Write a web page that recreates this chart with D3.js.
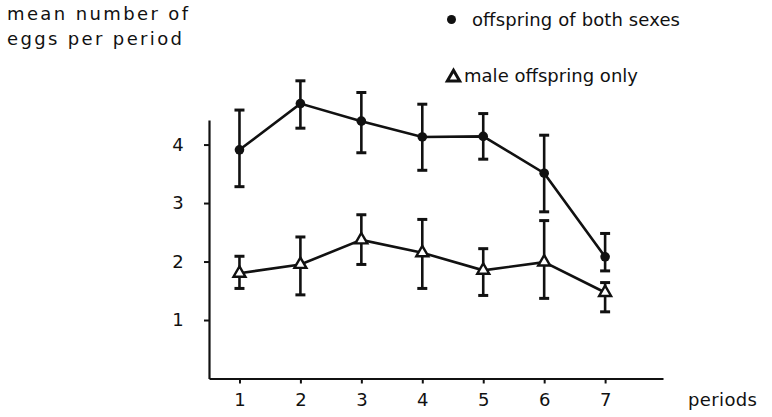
<!DOCTYPE html>
<html>
<head>
<meta charset="utf-8">
<script src="https://cdn.jsdelivr.net/npm/d3@7/dist/d3.min.js"></script>
<style>
  html, body { margin: 0; padding: 0; background: #fff; }
  svg { display: block; }
  text { font-family: "DejaVu Sans", sans-serif; fill: #111; }
</style>
</head>
<body>
<svg id="chart" width="772" height="417"></svg>
<script>
const periods = [1, 2, 3, 4, 5, 6, 7];
const bothMean = [3.91, 4.70, 4.40, 4.13, 4.14, 3.51, 2.08];
const bothLow  = [3.28, 4.28, 3.86, 3.56, 3.75, 2.85, 1.84];
const bothHigh = [4.59, 5.09, 4.89, 4.69, 4.53, 4.16, 2.48];
const maleMean = [1.80, 1.95, 2.37, 2.15, 1.85, 1.99, 1.47];
const maleLow  = [1.54, 1.43, 1.95, 1.54, 1.42, 1.37, 1.14];
const maleHigh = [2.09, 2.42, 2.80, 2.72, 2.22, 2.70, 1.64];
const yTicks = [1, 2, 3, 4];
const yTitle = ["mean number of", "eggs per period"];
const xTitle = "periods";
const legendLabels = ["offspring of both sexes", "male offspring only"];

const svg = d3.select("#chart");
const x = d3.scaleLinear().domain([0.5, 7.95]).range([209, 663]);
const y = d3.scaleLinear().domain([0, 4.42]).range([378.5, 120]);

// axes
const xAxis = d3.axisBottom(x).tickValues(periods).tickFormat(d3.format("d"))
  .tickSize(5).tickSizeOuter(0).tickPadding(10);
const yAxis = d3.axisLeft(y).tickValues(yTicks).tickFormat(d3.format("d"))
  .tickSize(5).tickSizeOuter(0).tickPadding(26);

const gx = svg.append("g").attr("transform", `translate(0,${y(0)})`).call(xAxis);
const gy = svg.append("g").attr("transform", `translate(${x(0.5)},0)`).call(yAxis);
[gx, gy].forEach(g => {
  g.select(".domain").attr("stroke", "#111").attr("stroke-width", 2.2);
  g.selectAll(".tick line").attr("stroke", "#111").attr("stroke-width", 2);
  g.selectAll(".tick text").attr("font-size", 18).attr("font-family", "DejaVu Sans, sans-serif").attr("fill", "#111");
});
gy.selectAll(".tick text").attr("text-anchor", "middle");

function series(mean, low, high) {
  return periods.map((p, i) => ({ p, m: mean[i], lo: low[i], hi: high[i] }));
}
const both = series(bothMean, bothLow, bothHigh);
const male = series(maleMean, maleLow, maleHigh);

const line = d3.line().x(d => x(d.p)).y(d => y(d.m));
[both, male].forEach(s => {
  svg.append("path").datum(s).attr("d", line)
    .attr("fill", "none").attr("stroke", "#111").attr("stroke-width", 2.6);
});

function errorBars(s) {
  const g = svg.append("g").attr("stroke", "#111");
  g.selectAll(".v").data(s).join("line")
    .attr("x1", d => x(d.p)).attr("x2", d => x(d.p))
    .attr("y1", d => y(d.lo)).attr("y2", d => y(d.hi)).attr("stroke-width", 2.6);
  ["lo", "hi"].forEach(k => {
    g.selectAll(".c" + k).data(s).join("line")
      .attr("x1", d => x(d.p) - 5).attr("x2", d => x(d.p) + 5)
      .attr("y1", d => y(d[k])).attr("y2", d => y(d[k])).attr("stroke-width", 3);
  });
}
errorBars(both);
errorBars(male);

svg.append("g").selectAll("circle").data(both).join("circle")
  .attr("cx", d => x(d.p)).attr("cy", d => y(d.m)).attr("r", 4.8).attr("fill", "#111");

const tri = d3.symbol().type(d3.symbolTriangle).size(62);
svg.append("g").selectAll("path").data(male).join("path")
  .attr("d", tri).attr("transform", d => `translate(${x(d.p)},${y(d.m)})`)
  .attr("fill", "#fff").attr("stroke", "#111").attr("stroke-width", 2.4);

// titles
svg.append("text").attr("x", 7).attr("y", 20).attr("font-size", 18)
  .attr("textLength", 181).attr("lengthAdjust", "spacing").text(yTitle[0]);
svg.append("text").attr("x", 7).attr("y", 45).attr("font-size", 18)
  .attr("textLength", 175).attr("lengthAdjust", "spacing").text(yTitle[1]);
svg.append("text").attr("x", 688).attr("y", 406).attr("font-size", 18)
  .attr("textLength", 69).attr("lengthAdjust", "spacing").text(xTitle);

// legend
svg.append("circle").attr("cx", 451.5).attr("cy", 19.5).attr("r", 4.5).attr("fill", "#111");
svg.append("text").attr("x", 472).attr("y", 25.5).attr("font-size", 18)
  .attr("textLength", 208).attr("lengthAdjust", "spacing").text(legendLabels[0]);
svg.append("path").attr("d", d3.symbol().type(d3.symbolTriangle).size(66)())
  .attr("transform", "translate(453.5,77.5)")
  .attr("fill", "#fff").attr("stroke", "#111").attr("stroke-width", 3);
svg.append("text").attr("x", 464).attr("y", 82).attr("font-size", 18)
  .attr("textLength", 174).attr("lengthAdjust", "spacing").text(legendLabels[1]);
</script>
</body>
</html>
